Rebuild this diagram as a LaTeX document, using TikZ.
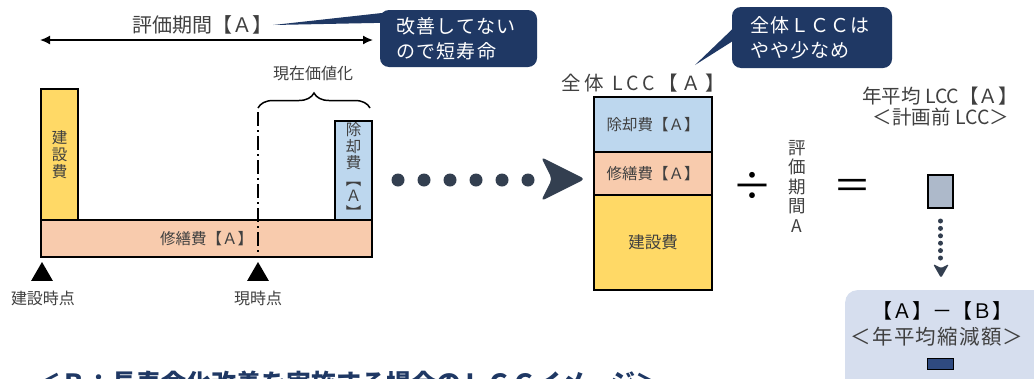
\documentclass[tikz,border=0pt]{standalone}
\usepackage{fontspec}
\setmainfont{Noto Sans CJK JP}
\newfontfamily\widejp[LetterSpace=20]{Noto Sans CJK JP}
\newfontfamily\calljp[LetterSpace=6]{Noto Sans CJK JP}
\usetikzlibrary{arrows.meta,positioning,decorations.pathreplacing,shapes.geometric}
\definecolor{ink}{HTML}{404040}
\definecolor{navy}{HTML}{1F3864}
\definecolor{slate}{HTML}{333F50}
\definecolor{build}{HTML}{FFD966}
\definecolor{repair}{HTML}{F8CBAD}
\definecolor{demol}{HTML}{BDD7EE}
\definecolor{avg}{HTML}{ADB9CA}
\definecolor{pale}{HTML}{D6DEEE}
\definecolor{mark}{HTML}{2F4A80}

\begin{document}
\begin{tikzpicture}[x=1pt,y=-1pt,>=Latex,
bar/.style={draw=black,line width=1.3pt,outer sep=0pt,inner sep=0pt,text=ink},
lbl/.style={text=ink,inner sep=0pt,font=\fontsize{16}{18}\selectfont},
callout/.style={fill=navy,rounded corners=9pt,text=white,align=left,font=\calljp\fontsize{19}{25}\selectfont,inner sep=0pt},
dotline/.style={slate,line width=13pt,line cap=round,dash pattern=on 0pt off 26pt},
tri/.style={regular polygon,regular polygon sides=3,fill=black,minimum size=25pt,inner sep=0pt}]

\useasboundingbox (0,0) rectangle (1034,378);
\fill[white] (0,0) rectangle (1034,378);

% evaluation period
\node[lbl,font=\fontsize{20}{22}\selectfont] (tt) at (202,25){評価期間【Ａ】};
\coordinate (ps) at (40,40);
\coordinate (pe) at (373,40);
\draw[<->,line width=1.6pt,>={Latex[length=10pt,width=9pt]}] (ps)--(pe);

\node[callout,minimum width=157pt,minimum height=57pt,text width=124pt] (c1) at (458.5,38.5){改善してない\\ので短寿命};
\fill[navy] ([xshift=1pt]tt.east) -- ([xshift=4pt,yshift=-3pt]c1.north west) -- ([xshift=4pt,yshift=-13pt]c1.north west) -- cycle;

% cost bars
\node[bar,fill=build,minimum width=37pt,minimum height=131pt,anchor=north west,align=center,font=\fontsize{15.5}{16.8}\selectfont] (kb) at (41,89){建\\設\\費};
\node[bar,fill=demol,minimum width=37pt,minimum height=99pt,anchor=north west,align=center,font=\fontsize{15.5}{16.5}\selectfont] (jb) at (335,121){除\\却\\費\\︻\\Ａ\\︼};
\node[bar,fill=repair,minimum width=331pt,minimum height=37pt,anchor=north west,font=\fontsize{15.5}{17}\selectfont] (rb) at (41,220){修繕費【Ａ】};

% present value
\node[lbl] (pv) at (313,73){現在価値化};
\draw[decorate,decoration={brace,amplitude=15pt},line width=1.5pt] (258,108)--(370,108);
\coordinate (nw) at (258,112);
\draw[line width=2pt,dash pattern=on 14pt off 4pt on 2pt off 4pt] (nw)--(nw |- rb.south);

\node[tri] (t1) at (42,274.5){};
\node[tri] (t2) at (258,274.5){};
\node[lbl] (l1) at (43,298){建設時点};
\node[lbl] (l2) at (258,298){現時点};

% flow to total
\coordinate (d0) at (398,180);
\coordinate (d1) at (530,180);
\draw[dotline] (d0)--(d1);
\fill[slate,rounded corners=4pt] (541,157)--(585,179)--(541,201)--(552,179)--cycle;

% total LCC
\node[lbl,font=\widejp\fontsize{19.5}{21}\selectfont] (lt) at (643,83){全体 LCC【Ａ】};
\node[bar,fill=demol,minimum width=118pt,minimum height=55pt,anchor=north west,font=\fontsize{15.5}{17}\selectfont] (sd) at (594,97){除却費【Ａ】};
\node[bar,fill=repair,minimum width=118pt,minimum height=43pt,below=0pt of sd,font=\fontsize{15.5}{17}\selectfont] (sr){修繕費【Ａ】};
\node[bar,fill=build,minimum width=118pt,minimum height=95pt,below=0pt of sr,font=\fontsize{16.5}{18}\selectfont] (sb){建設費};

\node[callout,minimum width=160pt,minimum height=61pt,text width=124pt] (c2) at (812,37.5){全体ＬＣＣは\\やや少なめ};
\coordinate (tip2) at (695,65);
\fill[navy] (tip2) -- ([xshift=3pt,yshift=-20pt]c2.north west) -- ([xshift=3pt,yshift=-33pt]c2.north west) -- cycle;

% annual average
\node[lbl,font=\fontsize{40}{40}\selectfont,text=black] (dv) at (752,186){÷};
\node[lbl,align=center,font=\fontsize{17.5}{19.5}\selectfont] (ev) at (797,186){評\\価\\期\\間\\A};
\node[lbl,font=\fontsize{38}{38}\selectfont,text=black] (eq) at (852,189){＝};

\node[lbl,font=\fontsize{19.5}{21}\selectfont] (at) at (940,96){年平均 LCC【Ａ】};
\node[lbl,font=\fontsize{19.5}{21}\selectfont] (ab) at (941,117){＜計画前 LCC＞};
\node[bar,fill=avg,minimum width=25pt,minimum height=33pt,line width=1.5pt] (ga) at (940.5,191.5){};
\draw[slate,line width=5pt,line cap=round,dash pattern=on 0pt off 7.4pt] ([yshift=-13pt]ga.south)--([yshift=-50pt]ga.south);
\fill[slate,rounded corners=1.5pt] (933,264)--(941,278)--(949,264)--(941,268)--cycle;

\node[fill=pale,rounded corners=12pt,minimum width=230pt,minimum height=120pt,anchor=north west] (sv) at (845,290){};
\node[lbl,font=\fontsize{20}{22}\selectfont,text=black] (s1) at (942,311){【Ａ】－【Ｂ】};
\node[lbl,font=\calljp\fontsize{20.5}{22}\selectfont] (s2) at (937,337){＜年平均縮減額＞};
\node[draw=black,fill=mark,line width=1pt,minimum width=26pt,minimum height=11pt,inner sep=0pt] (mk) at (940,364){};

% caption of next figure
\node[anchor=west,inner sep=0pt,text=navy,font=\bfseries\fontsize{25}{27}\selectfont] (cap) at (36,383){＜Ｂ：長寿命化改善を実施する場合のＬＣＣイメージ＞};
\end{tikzpicture}
\end{document}
